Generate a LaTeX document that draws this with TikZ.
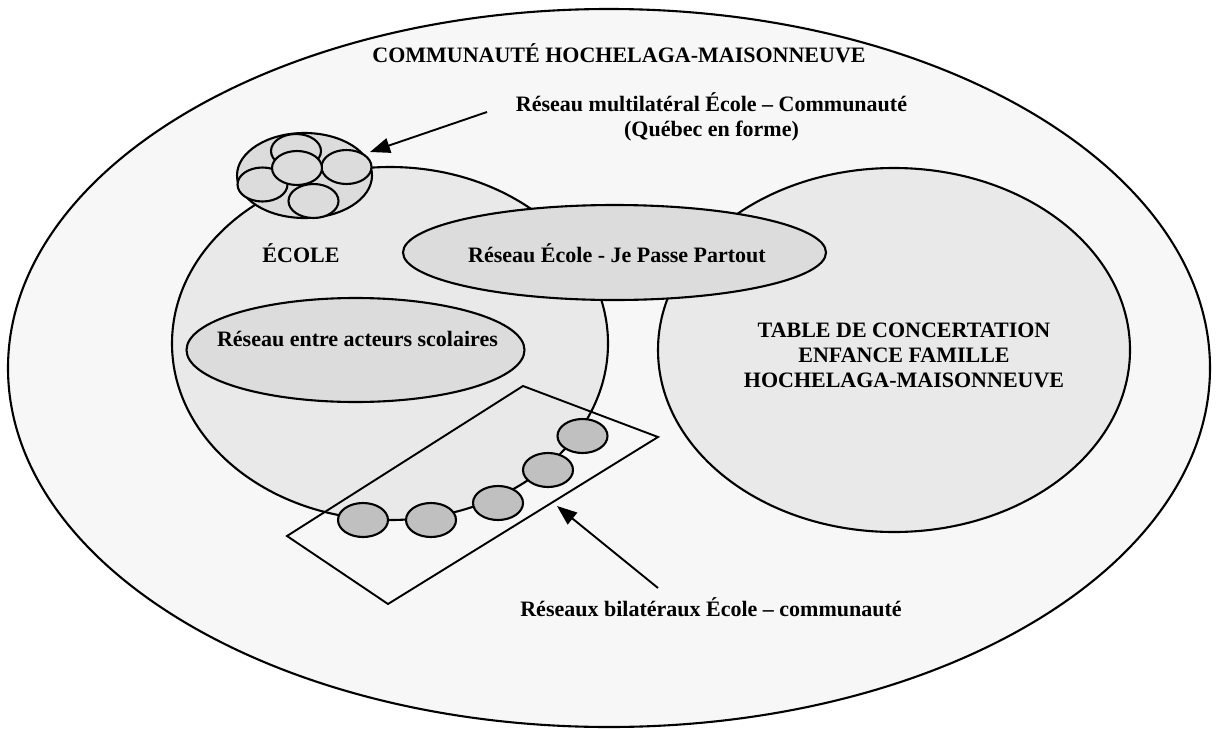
\documentclass[tikz,border=0pt]{standalone}
\usepackage{fontspec}
\setmainfont{Liberation Serif}
\usetikzlibrary{shapes.geometric,arrows.meta}
\definecolor{bgout}{HTML}{F7F7F7}
\definecolor{bigfill}{HTML}{E9E9E9}
\definecolor{netfill}{HTML}{DCDCDC}
\definecolor{beadfill}{HTML}{C0C0C0}
\begin{document}
\begin{tikzpicture}[x=1pt,y=-1pt,
  shp/.style={ellipse, draw, line width=2.1pt, inner sep=0pt, outer sep=0pt},
  bigell/.style={shp, fill=bigfill},
  netell/.style={shp, fill=netfill},
  small/.style={shp, fill=netfill, minimum width=50pt, minimum height=34pt},
  bead/.style={shp, fill=beadfill, minimum width=50pt, minimum height=34pt},
  lbl/.style={inner sep=0pt, font=\bfseries\fontsize{22}{25}\selectfont},
  arr/.style={line width=1.9pt, -{Triangle[length=20pt,width=15pt]}}]
\useasboundingbox (0,0) rectangle (1217,728);
\fill[white] (0,0) rectangle (1217,728);
% community
\node[shp, fill=bgout, minimum width=1202pt, minimum height=718pt] (comm) at (609,368) {};
% big ellipses
\node[bigell, minimum width=436pt, minimum height=353pt] (ecole) at (390,343.5) {};
\node[bigell, minimum width=472pt, minimum height=364pt] (table) at (894,350) {};
% networks
\node[netell, minimum width=423pt, minimum height=95pt] (jpp) at (614.5,252.5) {};
\node[netell, minimum width=338pt, minimum height=104pt] (acteurs) at (355.5,350) {};
% multilateral cluster
\node[netell, minimum width=135pt, minimum height=85pt] (cluster) at (304.5,175.5) {};
\node[small] (c1) at (296,151) {};
\node[small] (c2) at (262.5,184.5) {};
\node[small] (c3) at (313.5,201) {};
\node[small] (c4) at (346.5,167) {};
\node[small] (c5) at (297,168) {};
% bilateral frame
\coordinate (qL) at (287,536);
\coordinate (qT) at (523,386);
\coordinate (qR) at (658,437);
\coordinate (qB) at (388,604);
\draw[line width=1.9pt] (qL) -- (qT) -- (qR) -- (qB) -- cycle;
% beads
\node[bead] (b1) at (363,520) {};
\node[bead] (b2) at (431,520) {};
\node[bead] (b3) at (498,503) {};
\node[bead] (b4) at (548,470) {};
\node[bead] (b5) at (582.5,436) {};
% arrows
\coordinate (a1s) at (487,112);
\coordinate (a1e) at (370,152);
\draw[arr] (a1s) -- (a1e);
\coordinate (a2s) at (658,588);
\coordinate (a2e) at (557,506);
\draw[arr] (a2s) -- (a2e);
% labels
\node[lbl, anchor=base] (tcomm) at (619,62) {COMMUNAUTÉ HOCHELAGA-MAISONNEUVE};
\node[lbl, align=center, anchor=base] (tmulti) at (711.5,136.7) {Réseau multilatéral École – Communauté\\(Québec en forme)};
\node[lbl, anchor=base] (tecole) at (301,262) {ÉCOLE};
\node[lbl, anchor=base] (tjpp) at (617,262) {Réseau École - Je Passe Partout};
\node[lbl, anchor=base] (tact) at (357.5,346.7) {Réseau entre acteurs scolaires};
\node[lbl, align=center, anchor=base] (ttable) at (904,387) {TABLE DE CONCERTATION\\ENFANCE FAMILLE\\HOCHELAGA-MAISONNEUVE};
\node[lbl, anchor=base] (tbil) at (711,616) {Réseaux bilatéraux École – communauté};
\end{tikzpicture}
\end{document}
